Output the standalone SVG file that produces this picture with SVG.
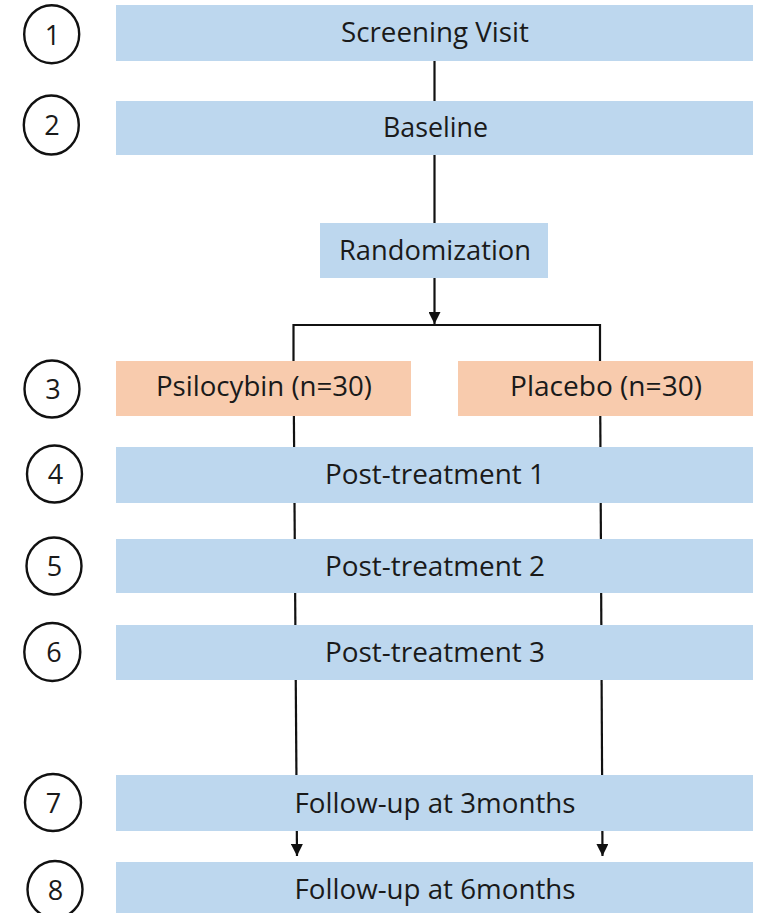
<svg xmlns="http://www.w3.org/2000/svg" width="759" height="913" viewBox="0 0 759 913">
<style>
.blue{fill:#BDD7EE}
.orange{fill:#F8CBAD}
.lbl{font-family:"Open Sans","Liberation Sans",sans-serif;font-size:28px;fill:#1a1a1a}
.num{font-family:"Open Sans","Liberation Sans",sans-serif;font-size:27px;fill:#1a1a1a;text-anchor:middle}
.ring{fill:none;stroke:#111;stroke-width:2.4}
.conn{fill:none;stroke:#111;stroke-width:2.2}
</style>
<defs>
<marker id="ah" viewBox="0 0 12 12" refX="12" refY="6" markerWidth="12" markerHeight="12" markerUnits="userSpaceOnUse" orient="auto">
<path d="M0,0 L12,6 L0,12 Z" fill="#111"/>
</marker>
</defs>
<rect width="759" height="913" fill="#ffffff"/>
<g id="connectors">
<line class="conn" x1="434.5" y1="61" x2="434.5" y2="101"/>
<line class="conn" x1="434.5" y1="155" x2="434.5" y2="223"/>
<line class="conn" x1="434.5" y1="278" x2="434.5" y2="324" marker-end="url(#ah)"/>
<path class="conn" d="M293.5,361 L293.5,325 L600,325 L600,361"/>
<path class="conn" d="M293.5,361 L297,856" marker-end="url(#ah)"/>
<path class="conn" d="M600,361 L602.5,856" marker-end="url(#ah)"/>
</g>
<g id="n1"><rect class="blue" x="116" y="5" width="637" height="56"/><text class="lbl" x="341" y="42" textLength="188" lengthAdjust="spacingAndGlyphs">Screening Visit</text></g>
<g id="n2"><rect class="blue" x="116" y="101" width="637" height="54"/><text class="lbl" x="383" y="137" textLength="105" lengthAdjust="spacingAndGlyphs">Baseline</text></g>
<g id="n-rand"><rect class="blue" x="320" y="223" width="228" height="55"/><text class="lbl" x="339" y="260" textLength="192" lengthAdjust="spacingAndGlyphs">Randomization</text></g>
<g id="n3a"><rect class="orange" x="116" y="361" width="295" height="55"/><text class="lbl" x="156" y="396" textLength="216" lengthAdjust="spacingAndGlyphs">Psilocybin (n=30)</text></g>
<g id="n3b"><rect class="orange" x="458" y="361" width="295" height="55"/><text class="lbl" x="510" y="396" textLength="192" lengthAdjust="spacingAndGlyphs">Placebo (n=30)</text></g>
<g id="n4"><rect class="blue" x="116" y="447" width="637" height="56"/><text class="lbl" x="325" y="484" textLength="220" lengthAdjust="spacingAndGlyphs">Post-treatment 1</text></g>
<g id="n5"><rect class="blue" x="116" y="539" width="637" height="54"/><text class="lbl" x="325" y="576" textLength="220" lengthAdjust="spacingAndGlyphs">Post-treatment 2</text></g>
<g id="n6"><rect class="blue" x="116" y="625" width="637" height="55"/><text class="lbl" x="325" y="662" textLength="220" lengthAdjust="spacingAndGlyphs">Post-treatment 3</text></g>
<g id="n7"><rect class="blue" x="116" y="775" width="637" height="56"/><text class="lbl" x="294.5" y="813" textLength="281" lengthAdjust="spacingAndGlyphs">Follow-up at 3months</text></g>
<g id="n8"><rect class="blue" x="116" y="862" width="637" height="53"/><text class="lbl" x="294.5" y="899" textLength="281" lengthAdjust="spacingAndGlyphs">Follow-up at 6months</text></g>
<g id="step1"><ellipse class="ring" cx="51.7" cy="34.2" rx="27.5" ry="29"/><text class="num" x="52.5" y="44.5">1</text></g>
<g id="step2"><ellipse class="ring" cx="51.3" cy="125" rx="27.5" ry="29.5"/><text class="num" x="52" y="135">2</text></g>
<g id="step3"><ellipse class="ring" cx="52" cy="389" rx="27.5" ry="28.5"/><text class="num" x="53" y="399">3</text></g>
<g id="step4"><ellipse class="ring" cx="54.5" cy="474" rx="27.5" ry="28.5"/><text class="num" x="55.5" y="484">4</text></g>
<g id="step5"><ellipse class="ring" cx="54" cy="566" rx="27.5" ry="28.5"/><text class="num" x="54.5" y="576">5</text></g>
<g id="step6"><ellipse class="ring" cx="52.3" cy="652" rx="28" ry="29"/><text class="num" x="54" y="662">6</text></g>
<g id="step7"><ellipse class="ring" cx="53" cy="802.5" rx="28" ry="28.5"/><text class="num" x="53.5" y="812.5">7</text></g>
<g id="step8"><ellipse class="ring" cx="55" cy="889.5" rx="27.5" ry="28.5"/><text class="num" x="55.5" y="899.5">8</text></g>
</svg>
